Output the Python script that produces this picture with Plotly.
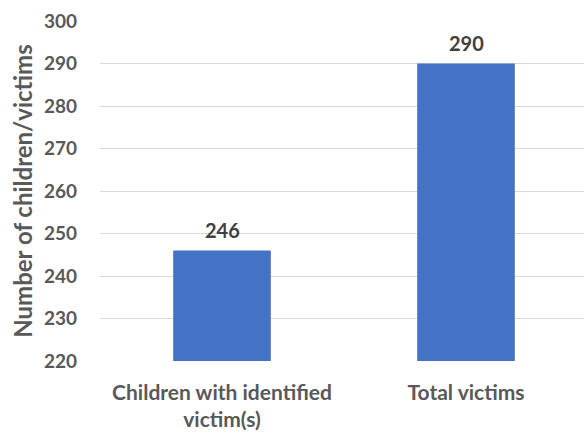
import plotly.graph_objects as go

categories = ["Children with identified<br>victim(s)", "Total victims"]
values = [246, 290]
y_ticks = [220, 230, 240, 250, 260, 270, 280, 290, 300]

font_family = "Lato, 'Open Sans', sans-serif"
axis_grey = "#595959"
label_grey = "#404040"

fig = go.Figure(
    go.Bar(
        x=[0, 1],
        y=values,
        width=0.40,
        marker=dict(color="#4472C4", line=dict(width=0)),
        hoverinfo="x+y",
    )
)

# value labels sitting just above each bar
for i, v in enumerate(values):
    fig.add_annotation(
        x=i,
        y=v,
        text=str(v),
        showarrow=False,
        yanchor="bottom",
        yshift=7,
        font=dict(family=font_family, size=20, color=label_grey, weight="bold"),
    )

fig.update_layout(
    width=584,
    height=433,
    margin=dict(l=100, r=0, t=21, b=72),
    paper_bgcolor="white",
    plot_bgcolor="white",
    showlegend=False,
    font=dict(family=font_family, color=axis_grey),
    xaxis=dict(
        range=[-0.5, 1.4836],
        tickmode="array",
        tickvals=[0, 1],
        ticktext=categories,
        tickfont=dict(size=21, color=axis_grey, weight="bold"),
        showgrid=False,
        zeroline=False,
        showline=False,
        ticks="",
        ticklabelstandoff=17,
    ),
    yaxis=dict(
        range=[220, 300],
        tickmode="array",
        tickvals=y_ticks,
        tickfont=dict(size=19, color=axis_grey, weight="bold"),
        showgrid=True,
        gridcolor="#D9D9D9",
        gridwidth=1,
        zeroline=False,
        showline=False,
        ticks="",
        ticklabelstandoff=22,
        title=dict(
            text="Number of children/victims",
            font=dict(size=24, color=axis_grey, weight="bold"),
            standoff=4,
        ),
    ),
)

fig.write_html("out.html")
